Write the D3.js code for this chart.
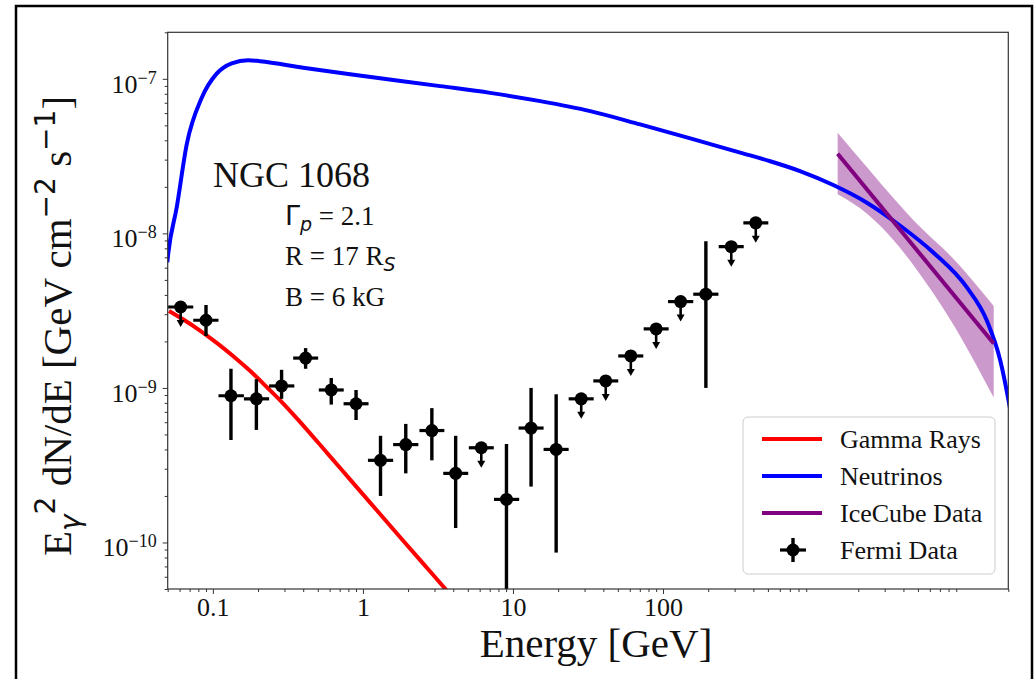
<!DOCTYPE html>
<html>
<head>
<meta charset="utf-8">
<script src="https://cdn.jsdelivr.net/npm/d3@7"></script>
<style>
  body { margin: 0; background: #fff; }
  svg { display: block; }
  .serif { font-family: "Liberation Serif", "Times New Roman", serif; }
  .math { font-family: "DejaVu Sans", sans-serif; }
</style>
</head>
<body>
<div id="chart"></div>
<script>
// Gamma-ray model (red)
const gammaE = [0.051, 0.0632, 0.0821, 0.1066, 0.1362, 0.1768, 0.2294, 0.2934, 0.3807, 0.5762, 0.8199, 1.241, 1.849, 2.931, 4.435];
const gammaF = [3.15e-9, 2.78e-9, 2.35e-9, 1.95e-9, 1.61e-9, 1.29e-9, 1.01e-9, 7.95e-10, 6.03e-10, 3.8e-10, 2.56e-10, 1.61e-10, 1.03e-10, 6.18e-11, 3.9e-11];

// Neutrino model (blue)
const nuE = [0.0497, 0.0505, 0.0574, 0.067, 0.0843, 0.106, 0.1336, 0.172, 0.206, 0.40, 0.821, 3.27, 7.04, 15.2, 32.7, 70.4, 152, 327, 518, 818, 1363, 2284, 3811, 6324, 10620, 14430, 17700, 20100, 21000];
const nuF = [6.5e-9, 7.5e-9, 1.47e-8, 3.78e-8, 7.54e-8, 1.08e-7, 1.26e-7, 1.32e-7, 1.3e-7, 1.18e-7, 1.07e-7, 8.97e-8, 8.11e-8, 7.17e-8, 6.18e-8, 5.07e-8, 4.12e-8, 3.33e-8, 2.93e-8, 2.53e-8, 2.055e-8, 1.58e-8, 1.12e-8, 7.52e-9, 4.45e-9, 2.71e-9, 1.5e-9, 8.24e-10, 6.5e-10];

// IceCube best fit + band
const iceE = [1458, 15990];
const iceF = [3.27e-8, 1.94e-9];
const bandE = [1458, 2311, 3475, 4977, 8300, 15990];
const bandHi = [4.48e-8, 2.65e-8, 1.67e-8, 1.14e-8, 7.1e-9, 3.39e-9];
const bandLo = [1.79e-8, 1.33e-8, 8.93e-9, 5.71e-9, 2.72e-9, 8.67e-10];

// Fermi data
const fermiE = [0.061, 0.090, 0.132, 0.195, 0.287, 0.415, 0.615, 0.90, 1.31, 1.93, 2.88, 4.15, 6.15, 9.05, 13.2, 19.4, 28.5, 41.5, 61, 90, 131, 193, 285, 415];
const fermiELo = [0.0503, 0.0740, 0.109, 0.161, 0.237, 0.343, 0.508, 0.743, 1.08, 1.59, 2.38, 3.43, 5.08, 7.47, 10.9, 16.0, 23.5, 34.3, 50.3, 74.3, 108, 159, 235, 343];
const fermiEHi = [0.0740, 0.109, 0.161, 0.237, 0.349, 0.503, 0.745, 1.09, 1.59, 2.34, 3.49, 5.03, 7.45, 11.0, 16.0, 23.5, 34.5, 50.3, 73.9, 109, 159, 234, 345, 503];
const fermiF = [3.34e-9, 2.74e-9, 8.9e-10, 8.5e-10, 1.03e-9, 1.56e-9, 9.7e-10, 7.9e-10, 3.4e-10, 4.3e-10, 5.3e-10, 2.8e-10, 4.1e-10, 1.9e-10, 5.5e-10, 4.0e-10, 8.5e-10, 1.11e-9, 1.61e-9, 2.41e-9, 3.62e-9, 4.04e-9, 8.2e-9, 1.17e-8];
const fermiHi = [null, 3.44e-9, 1.33e-9, 1.14e-9, 1.31e-9, 1.81e-9, 1.16e-9, 9.7e-10, 4.9e-10, 5.85e-10, 7.4e-10, 4.9e-10, null, 4.34e-10, 1.0e-9, 9.1e-10, null, null, null, null, null, 8.9e-9, null, null];
const fermiLo = [null, 2.17e-9, 4.6e-10, 5.35e-10, 8.5e-10, 1.33e-9, 7.8e-10, 6.2e-10, 2.0e-10, 2.8e-10, 3.4e-10, 1.24e-10, null, 3e-11, 2.3e-10, 8.6e-11, null, null, null, null, null, 1.0e-9, null, null];
const fermiUL = [true, false, false, false, false, false, false, false, false, false, false, false, true, false, false, false, true, true, true, true, true, false, true, true];

// Axis ticks
const xTickValues = [0.1, 1, 10, 100];
const xTickLabels = ["0.1", "1", "10", "100"];
const yTickValues = [1e-10, 1e-9, 1e-8, 1e-7];
const yTickExps = ["\u221210", "\u22129", "\u22128", "\u22127"];

const legendLabels = ["Gamma Rays", "Neutrinos", "IceCube Data", "Fermi Data"];

const W = 1036, H = 679;
const svg = d3.select("#chart").append("svg").attr("width", W).attr("height", H);

// outer frame
svg.append("rect")
  .attr("x", 16).attr("y", 6).attr("width", 1016).attr("height", 700)
  .attr("fill", "none").attr("stroke", "#000").attr("stroke-width", 2.5);

const pLeft = 167.7, pRight = 1008.3, pTop = 32.3, pBottom = 589;
const x = d3.scaleLog().domain([0.05, 2e4]).range([pLeft, pRight]);
const y = d3.scaleLog().domain([5e-11, 2e-7]).range([pBottom, pTop]);

svg.append("clipPath").attr("id", "clip")
  .append("rect").attr("x", pLeft).attr("y", pTop)
  .attr("width", pRight - pLeft).attr("height", pBottom - pTop);

const plot = svg.append("g").attr("clip-path", "url(#clip)");

// IceCube band
const band = bandE.map((e, i) => ({ e, lo: bandLo[i], hi: bandHi[i] }));
plot.append("path")
  .datum(band)
  .attr("d", d3.area().x(d => x(d.e)).y0(d => y(d.lo)).y1(d => y(d.hi)).curve(d3.curveMonotoneX))
  .attr("fill", "#800080").attr("fill-opacity", 0.4);

const line = d3.line().x(d => x(d[0])).y(d => y(d[1]));

plot.append("path")
  .datum(d3.zip(gammaE, gammaF))
  .attr("d", line.curve(d3.curveMonotoneX))
  .attr("fill", "none").attr("stroke", "#ff0000").attr("stroke-width", 4);

plot.append("path")
  .datum(d3.zip(nuE, nuF))
  .attr("d", line.curve(d3.curveMonotoneX))
  .attr("fill", "none").attr("stroke", "#0000ff").attr("stroke-width", 4)
  .attr("stroke-linejoin", "round");

plot.append("path")
  .datum(d3.zip(iceE, iceF))
  .attr("d", line.curve(d3.curveLinear))
  .attr("fill", "none").attr("stroke", "#800080").attr("stroke-width", 4);

// Fermi points
const fermi = fermiE.map((e, i) => ({
  e, lo: fermiELo[i], hi: fermiEHi[i], f: fermiF[i],
  fHi: fermiHi[i], fLo: fermiLo[i], ul: fermiUL[i]
}));

const pts = plot.selectAll(".fermi").data(fermi).enter().append("g");
pts.append("line")
  .attr("x1", d => x(d.lo)).attr("x2", d => x(d.hi))
  .attr("y1", d => y(d.f)).attr("y2", d => y(d.f))
  .attr("stroke", "#000").attr("stroke-width", 3.2);
pts.filter(d => !d.ul).append("line")
  .attr("x1", d => x(d.e)).attr("x2", d => x(d.e))
  .attr("y1", d => y(d.fHi)).attr("y2", d => y(d.fLo))
  .attr("stroke", "#000").attr("stroke-width", 3.4);
pts.filter(d => d.ul).append("line")
  .attr("x1", d => x(d.e)).attr("x2", d => x(d.e))
  .attr("y1", d => y(d.f)).attr("y2", d => y(d.f) + 15)
  .attr("stroke", "#000").attr("stroke-width", 2.6);
pts.filter(d => d.ul).append("path")
  .attr("d", d => {
    const cx = x(d.e), cy = y(d.f);
    return `M${cx - 4},${cy + 13} L${cx + 4},${cy + 13} L${cx},${cy + 20} Z`;
  })
  .attr("fill", "#000");
pts.append("circle")
  .attr("cx", d => x(d.e)).attr("cy", d => y(d.f)).attr("r", 6.5)
  .attr("fill", "#000");

// axes frame
svg.append("rect")
  .attr("x", pLeft).attr("y", pTop).attr("width", pRight - pLeft).attr("height", pBottom - pTop)
  .attr("fill", "none").attr("stroke", "#333").attr("stroke-width", 1.2);

// x ticks
const mantissa = v => Math.round(v / Math.pow(10, Math.floor(Math.log10(v) + 1e-9)));
const xMinor = x.ticks().filter(v => mantissa(v) !== 1);
const xAxis = svg.append("g").attr("transform", `translate(0,${pBottom})`);
xAxis.call(d3.axisBottom(x).tickValues(xMinor).tickSize(3).tickFormat(""));
xAxis.append("g").call(d3.axisBottom(x).tickValues(xTickValues).tickSize(5)
  .tickFormat((d, i) => xTickLabels[i]));
xAxis.selectAll(".domain").remove();
xAxis.selectAll("line").attr("stroke", "#333");
xAxis.selectAll("text")
  .attr("class", "serif").attr("font-size", 26).attr("fill", "#111")
  .attr("dy", null).attr("y", 27);

// y ticks
const yMinor = y.ticks().filter(v => mantissa(v) !== 1);
const yAxis = svg.append("g").attr("transform", `translate(${pLeft},0)`);
yAxis.call(d3.axisLeft(y).tickValues(yMinor).tickSize(3).tickFormat(""));
yAxis.append("g").call(d3.axisLeft(y).tickValues(yTickValues).tickSize(5).tickFormat(""));
yAxis.selectAll(".domain").remove();
yAxis.selectAll("line").attr("stroke", "#333");

yTickValues.forEach((v, i) => {
  const t = svg.append("text").attr("class", "serif").attr("fill", "#111")
    .attr("text-anchor", "end")
    .attr("x", pLeft - 11).attr("y", y(v) + 14);
  t.append("tspan").attr("font-size", 26).text("10");
  t.append("tspan").attr("font-size", 18).attr("dy", -9).text(yTickExps[i]);
});

// x label
svg.append("text").attr("class", "serif")
  .attr("x", 596).attr("y", 657)
  .attr("text-anchor", "middle").attr("font-size", 41).attr("fill", "#111")
  .text("Energy [GeV]");

// y label
const yl = svg.append("text").attr("class", "serif")
  .attr("transform", "translate(71,326) rotate(-90)")
  .attr("text-anchor", "middle").attr("font-size", 41).attr("fill", "#111");
yl.append("tspan").text("E");
yl.append("tspan").attr("class", "math").attr("font-style", "italic").attr("font-size", 28).attr("dy", 9).text("\u03b3");
yl.append("tspan").attr("class", "math").attr("font-size", 28).attr("dy", -25).text("2");
yl.append("tspan").attr("dy", 16).text(" dN/dE [GeV cm");
yl.append("tspan").attr("class", "math").attr("font-size", 28).attr("dy", -16).text("\u22122");
yl.append("tspan").attr("dy", 16).text(" s");
yl.append("tspan").attr("class", "math").attr("font-size", 28).attr("dy", -16).text("\u22121");
yl.append("tspan").attr("dy", 16).text("]");

// annotations
svg.append("text").attr("class", "serif").attr("x", 213).attr("y", 187)
  .attr("font-size", 36).attr("fill", "#111").text("NGC 1068");

const g1 = svg.append("text").attr("class", "serif").attr("x", 285).attr("y", 225)
  .attr("font-size", 27).attr("fill", "#111");
g1.append("tspan").attr("class", "math").text("\u0393");
g1.append("tspan").attr("class", "math").attr("font-style", "italic").attr("font-size", 19).attr("dy", 6).text("p");
g1.append("tspan").attr("dy", -6).text(" = 2.1");

const g2 = svg.append("text").attr("class", "serif").attr("x", 285).attr("y", 265)
  .attr("font-size", 27).attr("fill", "#111");
g2.append("tspan").text("R = 17 R");
g2.append("tspan").attr("class", "math").attr("font-style", "italic").attr("font-size", 19).attr("dy", 6).text("S");

svg.append("text").attr("class", "serif").attr("x", 285).attr("y", 306)
  .attr("font-size", 27).attr("fill", "#111").text("B = 6 kG");

// legend
const lg = svg.append("g");
lg.append("rect")
  .attr("x", 743).attr("y", 417).attr("width", 252).attr("height", 157).attr("rx", 5)
  .attr("fill", "#fff").attr("fill-opacity", 0.8)
  .attr("stroke", "#ccc").attr("stroke-width", 1);
const legendColors = ["#ff0000", "#0000ff", "#800080"];
const rowY = [439, 476, 513, 550];
legendLabels.forEach((lab, i) => {
  const yy = rowY[i];
  if (i < 3) {
    lg.append("line").attr("x1", 762).attr("x2", 822).attr("y1", yy).attr("y2", yy)
      .attr("stroke", legendColors[i]).attr("stroke-width", 4);
  } else {
    lg.append("line").attr("x1", 780).attr("x2", 806).attr("y1", yy).attr("y2", yy)
      .attr("stroke", "#000").attr("stroke-width", 3.2);
    lg.append("line").attr("x1", 793).attr("x2", 793).attr("y1", yy - 12).attr("y2", yy + 12)
      .attr("stroke", "#000").attr("stroke-width", 3.4);
    lg.append("circle").attr("cx", 793).attr("cy", yy).attr("r", 6.5).attr("fill", "#000");
  }
  lg.append("text").attr("class", "serif").attr("x", 840).attr("y", yy + 9)
    .attr("font-size", 26).attr("fill", "#111").text(lab);
});
</script>
</body>
</html>
